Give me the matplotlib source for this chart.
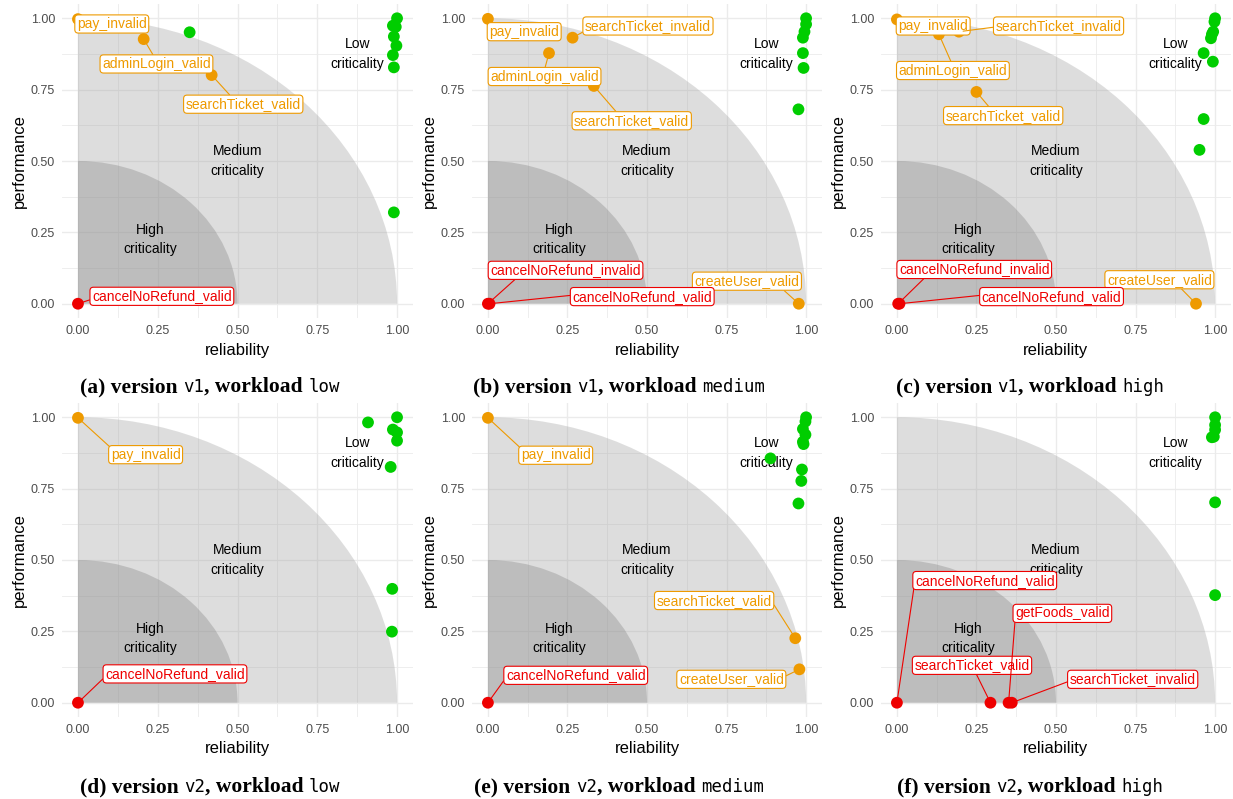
import matplotlib
matplotlib.use("Agg")
import matplotlib.pyplot as plt
from matplotlib.patches import Wedge
import numpy as np

plt.rcParams["font.family"] = ["Liberation Sans", "DejaVu Sans"]

# ---- data: reliability (x), performance (y), name ('' = unlabeled) ----
v1_low_rel = [0.0, 0.206, 0.419, 0.0, 0.35, 1.0, 0.996, 0.987, 0.99, 0.998, 0.987, 0.99, 0.99]
v1_low_perf = [0.997, 0.927, 0.801, 0.0, 0.951, 1.0, 0.97, 0.974, 0.936, 0.904, 0.871, 0.828, 0.32]
v1_low_name = ["pay_invalid", "adminLogin_valid", "searchTicket_valid", "cancelNoRefund_valid",
               "", "", "", "", "", "", "", "", ""]

v1_med_rel = [0.0, 0.266, 0.192, 0.333, 0.977, 0.0, 0.005,
              1.0, 1.0, 0.995, 0.99, 0.99, 0.992, 0.976]
v1_med_perf = [0.998, 0.932, 0.878, 0.763, 0.0, 0.0, 0.0,
               1.0, 0.979, 0.953, 0.932, 0.878, 0.826, 0.681]
v1_med_name = ["pay_invalid", "searchTicket_invalid", "adminLogin_valid", "searchTicket_valid",
               "createUser_valid", "cancelNoRefund_invalid", "cancelNoRefund_valid",
               "", "", "", "", "", "", ""]

v1_high_rel = [0.0, 0.195, 0.132, 0.25, 0.94, 0.004, 0.008,
               1.0, 0.998, 0.994, 0.99, 0.987, 0.964, 0.993, 0.964, 0.951]
v1_high_perf = [0.996, 0.953, 0.944, 0.742, 0.0, 0.0, 0.0,
                1.0, 0.988, 0.953, 0.944, 0.93, 0.878, 0.848, 0.647, 0.539]
v1_high_name = ["pay_invalid", "searchTicket_invalid", "adminLogin_valid", "searchTicket_valid",
                "createUser_valid", "cancelNoRefund_invalid", "cancelNoRefund_valid",
                "", "", "", "", "", "", "", "", ""]

v2_low_rel = [0.0, 0.0, 1.0, 1.0, 0.987, 1.0, 0.909, 0.98, 0.985, 0.984]
v2_low_perf = [0.998, 0.0, 1.0, 0.947, 0.957, 0.918, 0.982, 0.826, 0.399, 0.249]
v2_low_name = ["pay_invalid", "cancelNoRefund_valid", "", "", "", "", "", "", "", ""]

v2_med_rel = [0.0, 0.966, 0.979, 0.0,
              1.0, 0.998, 0.99, 0.998, 0.99, 0.992, 0.888, 0.987, 0.985, 0.976]
v2_med_perf = [0.998, 0.226, 0.117, 0.0,
               1.0, 0.985, 0.959, 0.939, 0.914, 0.906, 0.856, 0.817, 0.777, 0.698]
v2_med_name = ["pay_invalid", "searchTicket_valid", "createUser_valid", "cancelNoRefund_valid",
               "", "", "", "", "", "", "", "", "", ""]

v2_high_rel = [0.0, 0.294, 0.351, 0.361, 1.0, 1.0, 1.0, 0.996, 0.99, 1.0, 1.0]
v2_high_perf = [0.0, 0.0, 0.0, 0.0, 1.0, 0.973, 0.956, 0.932, 0.93, 0.702, 0.377]
v2_high_name = ["cancelNoRefund_valid", "searchTicket_valid", "getFoods_valid", "searchTicket_invalid",
                "", "", "", "", "", "", ""]

# label layout: centre (data coords) and where the leader leaves the box (None = no leader)
v1_low_labels = {"pay_invalid": (0.106, 0.980, None), "adminLogin_valid": (0.246, 0.840, (0.48, 1)),
                 "searchTicket_valid": (0.518, 0.699, (0.4, 1)), "cancelNoRefund_valid": (0.263, 0.026, (0, 0.3))}
v1_med_labels = {"pay_invalid": (0.114, 0.953, None), "searchTicket_invalid": (0.503, 0.973, (0, 0.15)),
                 "adminLogin_valid": (0.178, 0.796, (0.5, 1)), "searchTicket_valid": (0.452, 0.641, (0.38, 1)),
                 "cancelNoRefund_invalid": (0.244, 0.117, (0.18, 0)), "cancelNoRefund_valid": (0.485, 0.025, (0, 0.6)),
                 "createUser_valid": (0.814, 0.079, (0.83, 0))}
v1_high_labels = {"pay_invalid": (0.114, 0.973, None), "searchTicket_invalid": (0.508, 0.973, (0, 0.43)),
                  "adminLogin_valid": (0.176, 0.817, (0.49, 1)), "searchTicket_valid": (0.334, 0.659, (0.39, 1)),
                  "cancelNoRefund_invalid": (0.243, 0.120, (0.18, 0)), "cancelNoRefund_valid": (0.486, 0.025, (0, 0.6)),
                  "createUser_valid": (0.825, 0.084, (0.69, 0))}
v2_low_labels = {"pay_invalid": (0.212, 0.869, (0, 1)), "cancelNoRefund_valid": (0.304, 0.101, (0, 0.3))}
v2_med_labels = {"pay_invalid": (0.213, 0.867, (0, 1)), "searchTicket_valid": (0.711, 0.358, (1, 0.45)),
                 "createUser_valid": (0.765, 0.082, (1, 0.67)), "cancelNoRefund_valid": (0.276, 0.096, (0, 0.33))}
v2_high_labels = {"cancelNoRefund_valid": (0.276, 0.428, (0, 0.45)), "getFoods_valid": (0.520, 0.313, (0, 0.05)),
                  "searchTicket_valid": (0.236, 0.131, (0.53, 0)), "searchTicket_invalid": (0.741, 0.082, (0, 0.38))}

ticks = [0.0, 0.25, 0.5, 0.75, 1.0]
tick_labels = ["0.00", "0.25", "0.50", "0.75", "1.00"]

panels = [
    (v1_low_rel, v1_low_perf, v1_low_name, v1_low_labels, "(a)", "v1", "low"),
    (v1_med_rel, v1_med_perf, v1_med_name, v1_med_labels, "(b)", "v1", "medium"),
    (v1_high_rel, v1_high_perf, v1_high_name, v1_high_labels, "(c)", "v1", "high"),
    (v2_low_rel, v2_low_perf, v2_low_name, v2_low_labels, "(d)", "v2", "low"),
    (v2_med_rel, v2_med_perf, v2_med_name, v2_med_labels, "(e)", "v2", "medium"),
    (v2_high_rel, v2_high_perf, v2_high_name, v2_high_labels, "(f)", "v2", "high"),
]

GREEN, ORANGE, RED = "#00CD00", "#EE9A00", "#EE0000"

W, H = 1233, 799
fig = plt.figure(figsize=(W / 100, H / 100), dpi=100)

cols = [(62, 413), (472, 822), (881, 1231)]
rows = [(4, 318), (403, 717)]
cap_x = [210, 619, 1030]
cap_base = [392, 792]


def colour(x, y):
    d = np.hypot(x, y)
    if d < 0.5:
        return RED
    if d <= 1.0:
        return ORANGE
    return GREEN


for i, (rel, perf, names, labels, tag, ver, wl) in enumerate(panels):
    r, c = divmod(i, 3)
    l, rr = cols[c]
    t, b = rows[r]
    ax = fig.add_axes([l / W, 1 - b / H, (rr - l) / W, (b - t) / H])
    ax.set_xlim(-0.05, 1.05)
    ax.set_ylim(-0.05, 1.05)
    for s in ax.spines.values():
        s.set_visible(False)
    ax.set_axisbelow(True)
    ax.set_xticks(ticks)
    ax.set_xticklabels(tick_labels)
    ax.set_yticks(ticks)
    ax.set_yticklabels(tick_labels)
    ax.set_xticks([0.125, 0.375, 0.625, 0.875], minor=True)
    ax.set_yticks([0.125, 0.375, 0.625, 0.875], minor=True)
    ax.tick_params(which="both", length=0, labelsize=9, labelcolor="#4d4d4d", pad=5)
    ax.grid(which="major", color="#ebebeb", lw=1.0)
    ax.grid(which="minor", color="#ebebeb", lw=0.6)

    ax.add_patch(Wedge((0, 0), 1.0, 0, 90, fc="#a0a0a0", alpha=0.35, ec="none", zorder=1))
    ax.add_patch(Wedge((0, 0), 0.5, 0, 90, fc="#838383", alpha=0.35, ec="none", zorder=1))

    ax.text(0.225, 0.225, "High\ncriticality", ha="center", va="center", fontsize=10, linespacing=1.5, zorder=2)
    ax.text(0.5, 0.5, "Medium\ncriticality", ha="center", va="center", fontsize=10, linespacing=1.5, zorder=2)
    ax.text(0.875, 0.875, "Low\ncriticality", ha="center", va="center", fontsize=10, linespacing=1.5, zorder=2)

    cs = [colour(x, y) for x, y in zip(rel, perf)]
    ax.scatter(rel, perf, s=72, c=cs, edgecolors="none", zorder=3, clip_on=False)

    for x, y, n, col in zip(rel, perf, names, cs):
        if not n:
            continue
        lx, ly, rp = labels[n]
        ap = None
        if rp is not None:
            ap = dict(arrowstyle="-", color=col, lw=0.8, shrinkA=0, shrinkB=3, relpos=rp)
        ax.annotate(n, xy=(x, y), xytext=(lx, ly), textcoords="data", ha="center", va="center",
                    color=col, fontsize=10, zorder=5, arrowprops=ap,
                    bbox=dict(boxstyle="round,pad=0.15,rounding_size=0.25", fc="white", ec=col, lw=0.8))

    ax.set_xlabel("reliability", fontsize=12, labelpad=4)
    ax.set_ylabel("performance", fontsize=12, labelpad=3)

# captions: bold serif + monospace pieces on a shared baseline
renderer = fig.canvas.get_renderer()
for i, (_, _, _, _, tag, ver, wl) in enumerate(panels):
    r, c = divmod(i, 3)
    pieces = [(tag + " version ", "Liberation Serif", "bold", 15.5),
              (ver, "DejaVu Sans Mono", "normal", 12.5),
              (", workload ", "Liberation Serif", "bold", 15.5),
              (wl, "DejaVu Sans Mono", "normal", 12.5)]
    texts = [fig.text(0, 1 - cap_base[r] / H, s, family=f, weight=w, fontsize=fs, va="baseline", ha="left")
             for s, f, w, fs in pieces]
    widths = [tx.get_window_extent(renderer).width for tx in texts]
    x0 = cap_x[c] - sum(widths) / 2
    for tx, wd in zip(texts, widths):
        tx.set_x(x0 / W)
        x0 += wd

fig.savefig("out.png", dpi=100)
